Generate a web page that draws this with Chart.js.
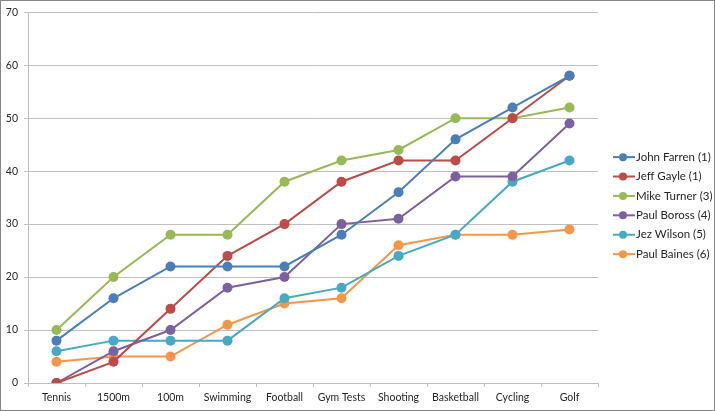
<!DOCTYPE html>
<html>
<head>
<meta charset="utf-8">
<script src="https://cdn.jsdelivr.net/npm/chart.js@4/dist/chart.umd.min.js"></script>
<style>
  html, body { margin: 0; padding: 0; background: #fff; }
  #wrap { width: 715px; height: 411px; box-sizing: border-box; border: 1px solid #868686; position: relative; }
  canvas { display: block; }
</style>
</head>
<body>
<div id="wrap"><canvas id="chart" width="713" height="409"></canvas></div>
<script>
const categories = ['Tennis', '1500m', '100m', 'Swimming', 'Football', 'Gym Tests', 'Shooting', 'Basketball', 'Cycling', 'Golf'];
const names = ['John Farren (1)', 'Jeff Gayle (1)', 'Mike Turner (3)', 'Paul Boross (4)', 'Jez Wilson (5)', 'Paul Baines (6)'];
const johnFarren = [8, 16, 22, 22, 22, 28, 36, 46, 52, 58];
const jeffGayle = [0, 4, 14, 24, 30, 38, 42, 42, 50, 58];
const mikeTurner = [10, 20, 28, 28, 38, 42, 44, 50, 50, 52];
const paulBoross = [0, 6, 10, 18, 20, 30, 31, 39, 39, 49];
const jezWilson = [6, 8, 8, 8, 16, 18, 24, 28, 38, 42];
const paulBaines = [4, 5, 5, 11, 15, 16, 26, 28, 28, 29];
const seriesValues = [johnFarren, jeffGayle, mikeTurner, paulBoross, jezWilson, paulBaines];
const colors = ['#4A7EBB', '#BE4B48', '#98B954', '#7D60A0', '#46AAC5', '#F79646'];
const yTicks = [0, 10, 20, 30, 40, 50, 60, 70];

const textColor = '#262626';
const fontFamily = 'Lato';

// Excel-style legend on the right: short line with a dot, then the name
const sideLegend = {
  id: 'sideLegend',
  afterDraw(chart) {
    const g = chart.ctx;
    const x0 = chart.chartArea.right + 15;
    const rowH = 19.4;
    const items = chart.data.datasets;
    const midY = (chart.chartArea.top + chart.chartArea.bottom) / 2 + 8;
    let y = midY - rowH * (items.length - 1) / 2;
    g.save();
    g.font = '11.5px ' + fontFamily;
    g.textBaseline = 'middle';
    items.forEach((ds) => {
      g.strokeStyle = ds.borderColor;
      g.lineWidth = 2;
      g.beginPath(); g.moveTo(x0, y); g.lineTo(x0 + 22, y); g.stroke();
      g.fillStyle = ds.borderColor;
      g.beginPath(); g.arc(x0 + 10, y, 4, 0, Math.PI * 2); g.fill();
      g.fillStyle = textColor;
      g.fillText(ds.label, x0 + 23, y);
      y += rowH;
    });
    g.restore();
  }
};

const ctx = document.getElementById('chart').getContext('2d');
new Chart(ctx, {
  type: 'line',
  data: {
    labels: categories,
    datasets: seriesValues.map((vals, i) => ({
      label: names[i],
      data: vals,
      borderColor: colors[i],
      backgroundColor: colors[i],
      borderWidth: 2,
      pointRadius: 5,
      pointHoverRadius: 5,
      pointBorderWidth: 0,
      tension: 0,
      fill: false
    }))
  },
  options: {
    responsive: false,
    animation: false,
    layout: { padding: { top: 6, right: 116, left: 0, bottom: 0 } },
    plugins: {
      tooltip: { enabled: false },
      legend: { display: false }
    },
    scales: {
      x: {
        offset: true,
        afterFit: (axis) => { axis.height = 27; },
        grid: { display: true, drawOnChartArea: false, offset: true, tickLength: 4, color: '#BFBFBF' },
        border: { color: '#BFBFBF' },
        ticks: { color: textColor, font: { family: fontFamily, size: 10.5 }, maxRotation: 0, autoSkip: false, padding: 4 }
      },
      y: {
        min: 0,
        max: 70,
        afterFit: (axis) => { axis.width = 27; },
        afterBuildTicks: (axis) => { axis.ticks = yTicks.map(v => ({ value: v })); },
        grid: { color: '#BFBFBF', tickLength: 4 },
        border: { color: '#BFBFBF' },
        ticks: { color: textColor, font: { family: fontFamily, size: 10.5, lineHeight: 1 }, padding: 6 }
      }
    }
  },
  plugins: [sideLegend]
});
</script>
</body>
</html>
